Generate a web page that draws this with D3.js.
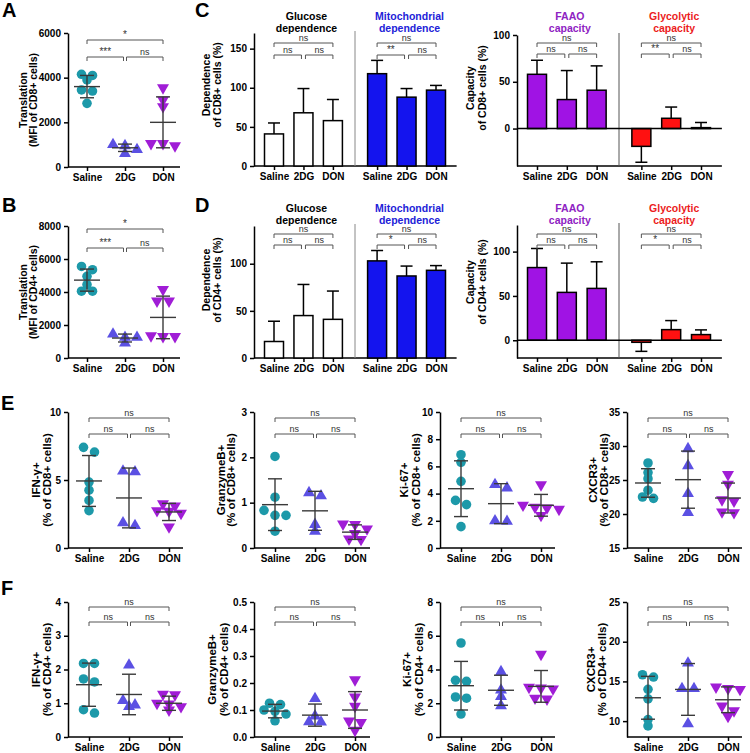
<!DOCTYPE html>
<html>
<head>
<meta charset="utf-8">
<title>Metabolic dependence and T cell function</title>
<script src="https://d3js.org/d3.v7.min.js"></script>
<style>
  body { margin: 0; background: #fff; }
  text { font-family: 'Liberation Sans', Arial, sans-serif; }
</style>
</head>
<body>
<script>
'use strict';

const groups = ['Saline', '2DG', 'DON'];

// A / B : translation (MFI)
const transCD8 = [[4150, 4100, 3900, 3450, 3400, 2850], [1000, 950, 780, 600], [3550, 3000, 2700, 950, 1050, 1050]];
const transCD8Mean = [3600, 860, 2000];
const transCD8Sd = [500, 165, 1140];
const transCD4 = [[5550, 5350, 4950, 4450, 4050, 4050], [1450, 1250, 1250, 900], [4150, 3450, 3450, 1300, 1300, 1350]];
const transCD4Mean = [4720, 1210, 2460];
const transCD4Sd = [670, 240, 1290];

// C / D : bars (mean, SD)
const glucoseCD8 = [41, 68, 58], glucoseCD8Sd = [14, 31, 27];
const mitoCD8 = [118, 88, 97], mitoCD8Sd = [17, 11, 6];
const faaoCD8 = [58, 31, 41], faaoCD8Sd = [15, 31, 26];
const glycoCD8 = [-19, 11, 1], glycoCD8Sd = [17, 12, 5.5];
const glucoseCD4 = [17.5, 45, 41], glucoseCD4Sd = [21.5, 33, 30];
const mitoCD4 = [103, 87, 93], mitoCD4Sd = [11, 10.5, 5];
const faaoCD4 = [82, 54, 58.5], faaoCD4Sd = [21.5, 33, 30];
const glycoCD4 = [-2.3, 12, 6.4], glycoCD4Sd = [10.2, 10.2, 5.3];

// E : CD8+ cells
const ifnCD8 = [[7.4, 7.05, 4.85, 4.25, 3.5, 2.75], [5.6, 5.65, 1.85, 1.65], [3.1, 3.25, 2.75, 2.55, 2.7, 1.55]];
const ifnCD8Mean = [4.93, 3.68, 2.65], ifnCD8Sd = [1.87, 2.2, 0.63];
const gzbCD8 = [[2.02, 1.12, 0.83, 0.72, 0.72, 0.37], [1.22, 1.15, 0.52, 0.37], [0.53, 0.52, 0.42, 0.32, 0.2, 0.19]];
const gzbCD8Mean = [0.956, 0.82, 0.35], gzbCD8Sd = [0.57, 0.43, 0.16];
const kiCD8 = [[6.86, 6.3, 4.9, 3.5, 3.19, 1.57], [4.66, 4.41, 1.96, 2.0], [4.65, 3.15, 3.0, 2.95, 2.85, 2.4]];
const kiCD8Mean = [4.36, 3.26, 3.14], kiCD8Sd = [2.05, 1.47, 0.8];
const cxcrCD8 = [[27.5, 26.1, 25.2, 23.5, 22.5, 22.3], [29.6, 27.1, 23.0, 20.2], [25.8, 24.4, 22.1, 21.9, 20.3, 20.2]];
const cxcrCD8Mean = [24.56, 25.05, 22.35], cxcrCD8Sd = [2.1, 4.2, 2.2];

// F : CD4+ cells
const ifnCD4 = [[2.18, 2.18, 1.72, 1.63, 0.81, 0.71], [2.13, 1.08, 0.95, 0.9], [1.27, 1.25, 1.0, 0.98, 0.9, 0.8]];
const ifnCD4Mean = [1.55, 1.26, 1.0], ifnCD4Sd = [0.64, 0.6, 0.21];
const gzbCD4 = [[0.125, 0.12, 0.1, 0.095, 0.085, 0.06], [0.142, 0.078, 0.056, 0.055], [0.212, 0.148, 0.114, 0.059, 0.054, 0.025]];
const gzbCD4Mean = [0.096, 0.081, 0.1], gzbCD4Sd = [0.025, 0.041, 0.068];
const kiCD4 = [[5.57, 3.36, 3.3, 2.37, 2.3, 1.36], [3.87, 2.78, 2.4, 1.85], [4.9, 2.95, 2.9, 2.85, 2.3, 2.25]];
const kiCD4Mean = [3.04, 2.77, 3.0], kiCD4Sd = [1.44, 0.89, 0.94];
const cxcrCD4 = [[15.84, 15.55, 14.0, 12.8, 10.2, 9.4], [17.3, 14.1, 14.1, 9.66], [14.3, 14.1, 14.0, 11.9, 11.3, 10.6]];
const cxcrCD4Mean = [12.94, 13.99, 12.69], cxcrCD4Sd = [2.7, 3.26, 1.62];

// significance: [Saline-DON, Saline-2DG, 2DG-DON]
const sigTrans = ['*', '***', 'ns'];
const sigNs = ['ns', 'ns', 'ns'];
const sigMitoCD8 = ['ns', '**', 'ns'];
const sigGlycoCD8 = ['ns', '**', 'ns'];
const sigMitoCD4 = ['ns', '*', 'ns'];
const sigGlycoCD4 = ['ns', '*', 'ns'];

const groupColors = ['#1d99a9', '#5b50e3', '#a01dd6'];
const symbols = [
  d3.symbol().type(d3.symbolCircle).size(72),
  d3.symbol().type(d3.symbolTriangle).size(62),
  d3.symbol().type(d3.symbolTriangle).size(62)
];

const svg = d3.select('body').append('svg')
  .attr('width', 750)
  .attr('height', 753);

svg.append('rect')
  .attr('width', '100%')
  .attr('height', '100%')
  .attr('fill', '#ffffff');

function styleAxis(a) {
  a.attr('font-family', null).attr('font-size', null);
  a.select('.domain').attr('stroke-width', 1.5);
  a.selectAll('.tick line').attr('stroke-width', 1.5);
  a.selectAll('.tick text').attr('font-size', 10).attr('font-weight', 'bold').attr('fill', '#000');
}

function yLabel(g, xs, cy, lines, size) {
  lines.forEach((t, i) => {
    g.append('text')
      .attr('transform', `translate(${xs[i]},${cy}) rotate(-90)`)
      .attr('text-anchor', 'middle')
      .attr('font-size', size)
      .attr('font-weight', 'bold')
      .text(t);
  });
}

function bracket(g, xa, xb, y, label) {
  g.append('path')
    .attr('d', `M${xa},${y + 4}V${y}H${xb}V${y + 4}`)
    .attr('fill', 'none')
    .attr('stroke', '#555')
    .attr('stroke-width', 1);
  g.append('text')
    .attr('x', (xa + xb) / 2)
    .attr('y', y - 2)
    .attr('text-anchor', 'middle')
    .attr('font-size', label === 'ns' ? 9 : 10)
    .attr('fill', '#333')
    .text(label);
}

// points close in y are laid out side by side, centred on the column
function spread(vals, y, sp) {
  const idx = vals.map((v, i) => i).sort((a, b) => vals[b] - vals[a]);
  const off = vals.map(() => 0);
  let i = 0;
  while (i < idx.length) {
    const grp = [idx[i]];
    let j = i + 1;
    while (j < idx.length && Math.abs(y(vals[idx[j]]) - y(vals[idx[i]])) < 5) { grp.push(idx[j]); j++; }
    grp.forEach((k, n) => { off[k] = (n - (grp.length - 1) / 2) * sp; });
    i = j;
  }
  return off;
}

function scatterPanel(o) {
  const g = svg.append('g');
  const y = d3.scaleLinear().domain(o.domain).range([o.yBot, o.yTop]);
  const x = d3.scalePoint().domain(groups).range([o.x0 + o.pad[0], o.x0 + o.pad[1]]);

  g.append('g')
    .attr('transform', `translate(${o.x0},0)`)
    .call(d3.axisLeft(y).tickValues(o.ticks).tickFormat(o.fmt || d3.format('d'))
      .tickSize(4).tickSizeOuter(0).tickPadding(3))
    .call(styleAxis);
  g.append('line')
    .attr('x1', o.x0).attr('x2', o.x1)
    .attr('y1', o.yBot).attr('y2', o.yBot)
    .attr('stroke', '#000').attr('stroke-width', 1.5);
  g.append('g')
    .attr('transform', `translate(0,${o.yBot})`)
    .call(d3.axisBottom(x).tickSize(4).tickPadding(3))
    .call(a => a.select('.domain').remove())
    .call(styleAxis);

  o.data.forEach((vals, gi) => {
    const off = spread(vals, y, gi === 0 ? 11 : 12);
    vals.forEach((v, k) => {
      g.append('path')
        .attr('d', symbols[gi]())
        .attr('transform', `translate(${x(groups[gi]) + off[k]},${y(v)})` + (gi === 2 ? ' rotate(180)' : ''))
        .attr('fill', groupColors[gi]);
    });
  });

  groups.forEach((grp, gi) => {
    const cx = x(grp);
    const m = o.mean[gi], s = o.sd[gi];
    const st = p => p.attr('stroke', '#3a3a3a').attr('stroke-width', 1.4);
    st(g.append('line').attr('x1', cx - 13).attr('x2', cx + 13).attr('y1', y(m)).attr('y2', y(m)));
    st(g.append('line').attr('x1', cx).attr('x2', cx).attr('y1', y(m + s)).attr('y2', y(m - s)));
    st(g.append('line').attr('x1', cx - 7).attr('x2', cx + 7).attr('y1', y(m + s)).attr('y2', y(m + s)));
    st(g.append('line').attr('x1', cx - 7).attr('x2', cx + 7).attr('y1', y(m - s)).attr('y2', y(m - s)));
  });

  bracket(g, x('Saline'), x('DON'), o.br[0], o.sig[0]);
  bracket(g, x('Saline'), x('2DG') - 1.5, o.br[1], o.sig[1]);
  bracket(g, x('2DG') + 1.5, x('DON'), o.br[1], o.sig[2]);

  yLabel(g, [o.x0 + o.lab[0], o.x0 + o.lab[1]], (o.yTop + o.yBot) / 2, o.label, o.labSize);
}

function barPanel(o) {
  const g = svg.append('g');
  const y = d3.scaleLinear().domain(o.domain).range([o.yBot, o.yTop]);
  const x = d3.scaleLinear().domain([0, 5.5]).range([o.x0 + 20, o.x0 + o.span]);
  const pos = [[0, 1, 2], [3.5, 4.5, 5.5]];
  const xEnd = x(6.2);

  g.append('g')
    .attr('transform', `translate(${o.x0},0)`)
    .call(d3.axisLeft(y).tickValues(o.ticks).tickSize(4).tickSizeOuter(0).tickPadding(3))
    .call(styleAxis);
  g.append('line')
    .attr('x1', o.x0).attr('x2', xEnd)
    .attr('y1', o.yBot).attr('y2', o.yBot)
    .attr('stroke', '#000').attr('stroke-width', 1.5);
  g.append('g')
    .attr('transform', `translate(0,${o.yBot})`)
    .call(d3.axisBottom(x).tickValues(pos[0].concat(pos[1]))
      .tickFormat((d, i) => groups[i % 3]).tickSize(4).tickPadding(3))
    .call(a => a.select('.domain').remove())
    .call(styleAxis);

  g.append('line')
    .attr('x1', x(2.75)).attr('x2', x(2.75))
    .attr('y1', o.yTop - 2).attr('y2', o.yBot)
    .attr('stroke', o.sepColor).attr('stroke-width', 1);

  o.sets.forEach((s, si) => {
    s.vals.forEach((v, i) => {
      const cx = x(pos[si][i]);
      const dir = v < 0 ? -1 : 1;
      const e = v + dir * s.sd[i];
      g.append('line').attr('x1', cx).attr('x2', cx).attr('y1', y(v)).attr('y2', y(e))
        .attr('stroke', '#000').attr('stroke-width', 1.5);
      g.append('line').attr('x1', cx - 6).attr('x2', cx + 6).attr('y1', y(e)).attr('y2', y(e))
        .attr('stroke', '#000').attr('stroke-width', 1.5);
      g.append('rect')
        .attr('x', cx - 9.5)
        .attr('y', Math.min(y(v), y(0)))
        .attr('width', 19)
        .attr('height', Math.abs(y(v) - y(0)))
        .attr('fill', s.fill)
        .attr('stroke', '#000')
        .attr('stroke-width', 1.5);
    });
    const hx = x(pos[si][1]) + 3;
    s.header.forEach((t, k) => {
      g.append('text')
        .attr('x', hx).attr('y', o.headY[k])
        .attr('text-anchor', 'middle')
        .attr('font-size', 10.5)
        .attr('font-weight', 'bold')
        .attr('fill', s.headColor)
        .text(t);
    });
    bracket(g, x(pos[si][0]), x(pos[si][2]), o.br[0], s.sig[0]);
    bracket(g, x(pos[si][0]), x(pos[si][1]) - 2, o.br[1], s.sig[1]);
    bracket(g, x(pos[si][1]) + 2, x(pos[si][2]), o.br[1], s.sig[2]);
  });

  if (o.domain[0] < 0) {
    g.append('line')
      .attr('x1', o.x0).attr('x2', xEnd)
      .attr('y1', y(0)).attr('y2', y(0))
      .attr('stroke', '#000').attr('stroke-width', 1.5);
  }

  yLabel(g, [o.x0 + o.lab[0], o.x0 + o.lab[1]], o.labY, o.label, 10.5);
}

// ---- A, B ----
scatterPanel({ x0: 68, x1: 180, yTop: 33, yBot: 167, pad: [19, 95], domain: [0, 6000], ticks: [0, 2000, 4000, 6000],
  data: transCD8, mean: transCD8Mean, sd: transCD8Sd, sig: sigTrans, br: [40, 57],
  label: ['Translation', '(MFI of CD8+ cells)'], lab: [-41, -31], labSize: 10.5 });
scatterPanel({ x0: 68, x1: 180, yTop: 226, yBot: 358, pad: [19, 95], domain: [0, 8000], ticks: [0, 2000, 4000, 6000, 8000],
  data: transCD4, mean: transCD4Mean, sd: transCD4Sd, sig: sigTrans, br: [229, 248],
  label: ['Translation', '(MFI of CD4+ cells)'], lab: [-41, -31], labSize: 10.5 });

// ---- C ----
barPanel({ x0: 254, span: 182, yTop: 33, yBot: 166, domain: [0, 170], ticks: [0, 50, 100, 150],
  br: [43, 55], headY: [19.5, 31.5], sepColor: '#888', labY: 85, lab: [-44, -33],
  label: ['Dependence', 'of CD8+ cells (%)'],
  sets: [
    { vals: glucoseCD8, sd: glucoseCD8Sd, fill: '#ffffff', header: ['Glucose', 'dependence'], headColor: '#000', sig: sigNs },
    { vals: mitoCD8, sd: mitoCD8Sd, fill: '#1414ee', header: ['Mitochondrial', 'dependence'], headColor: '#2222d8', sig: sigMitoCD8 }
  ] });
barPanel({ x0: 517, span: 184, yTop: 35, yBot: 166, domain: [-40, 100], ticks: [0, 50, 100],
  br: [43, 54], headY: [19.5, 31.5], sepColor: '#555', labY: 88, lab: [-43, -31],
  label: ['Capacity', 'of CD8+ cells (%)'],
  sets: [
    { vals: faaoCD8, sd: faaoCD8Sd, fill: '#a013e4', header: ['FAAO', 'capacity'], headColor: '#8e22c2', sig: sigNs },
    { vals: glycoCD8, sd: glycoCD8Sd, fill: '#ff1111', header: ['Glycolytic', 'capacity'], headColor: '#ec1c1c', sig: sigGlycoCD8 }
  ] });

// ---- D ----
barPanel({ x0: 254, span: 182, yTop: 226, yBot: 358, domain: [0, 140], ticks: [0, 50, 100],
  br: [234, 245], headY: [211.5, 223.5], sepColor: '#888', labY: 280, lab: [-44, -33],
  label: ['Dependence', 'of CD4+ cells (%)'],
  sets: [
    { vals: glucoseCD4, sd: glucoseCD4Sd, fill: '#ffffff', header: ['Glucose', 'dependence'], headColor: '#000', sig: sigNs },
    { vals: mitoCD4, sd: mitoCD4Sd, fill: '#1414ee', header: ['Mitochondrial', 'dependence'], headColor: '#2222d8', sig: sigMitoCD4 }
  ] });
barPanel({ x0: 517, span: 184, yTop: 225, yBot: 358, domain: [-20, 130], ticks: [0, 50, 100],
  br: [234, 245], headY: [211.5, 223.5], sepColor: '#555', labY: 282, lab: [-43, -31],
  label: ['Capacity', 'of CD4+ cells (%)'],
  sets: [
    { vals: faaoCD4, sd: faaoCD4Sd, fill: '#a013e4', header: ['FAAO', 'capacity'], headColor: '#8e22c2', sig: sigNs },
    { vals: glycoCD4, sd: glycoCD4Sd, fill: '#ff1111', header: ['Glycolytic', 'capacity'], headColor: '#ec1c1c', sig: sigGlycoCD4 }
  ] });

// ---- E ----
const eRow = { yTop: 412, yBot: 548, pad: [21, 101], br: [418, 434], sig: sigNs, labSize: 11.5 };
scatterPanel(Object.assign({}, eRow, { x0: 68, x1: 183, domain: [0, 10], ticks: [0, 5, 10],
  data: ifnCD8, mean: ifnCD8Mean, sd: ifnCD8Sd, label: ['IFN-γ+', '(% of CD8+ cells)'], lab: [-28, -17] }));
scatterPanel(Object.assign({}, eRow, { x0: 254, x1: 370, domain: [0, 3], ticks: [0, 1, 2, 3],
  data: gzbCD8, mean: gzbCD8Mean, sd: gzbCD8Sd, label: ['GranzymeB+', '(% of CD8+ cells)'], lab: [-29, -19] }));
scatterPanel(Object.assign({}, eRow, { x0: 440, x1: 555, domain: [0, 10], ticks: [0, 2, 4, 6, 8, 10],
  data: kiCD8, mean: kiCD8Mean, sd: kiCD8Sd, label: ['Ki-67+', '(% of CD8+ cells)'], lab: [-32, -20] }));
scatterPanel(Object.assign({}, eRow, { x0: 627, x1: 742, domain: [15, 35], ticks: [15, 20, 25, 30, 35],
  data: cxcrCD8, mean: cxcrCD8Mean, sd: cxcrCD8Sd, label: ['CXCR3+', '(% of CD8+ cells)'], lab: [-30, -19] }));

// ---- F ----
const fRow = { yTop: 602, yBot: 737, pad: [21, 101], br: [607, 622], sig: sigNs, labSize: 11.5 };
scatterPanel(Object.assign({}, fRow, { x0: 68, x1: 183, domain: [0, 4], ticks: [0, 1, 2, 3, 4],
  data: ifnCD4, mean: ifnCD4Mean, sd: ifnCD4Sd, label: ['IFN-γ+', '(% of CD4+ cells)'], lab: [-28, -17] }));
scatterPanel(Object.assign({}, fRow, { x0: 254, x1: 370, domain: [0, 0.5], ticks: [0, 0.1, 0.2, 0.3, 0.4, 0.5], fmt: d3.format('.1f'),
  data: gzbCD4, mean: gzbCD4Mean, sd: gzbCD4Sd, label: ['GranzymeB+', '(% of CD4+ cells)'], lab: [-38, -26] }));
scatterPanel(Object.assign({}, fRow, { x0: 440, x1: 555, domain: [0, 8], ticks: [0, 2, 4, 6, 8],
  data: kiCD4, mean: kiCD4Mean, sd: kiCD4Sd, label: ['Ki-67+', '(% of CD4+ cells)'], lab: [-29, -17] }));
scatterPanel(Object.assign({}, fRow, { x0: 627, x1: 742, domain: [8, 25], ticks: [10, 15, 20, 25],
  data: cxcrCD4, mean: cxcrCD4Mean, sd: cxcrCD4Sd, label: ['CXCR3+', '(% of CD4+ cells)'], lab: [-32, -21] }));

// panel letters
const letters = [['A', 2, 17], ['B', 2, 212], ['C', 195, 17], ['D', 195, 212], ['E', 1, 410], ['F', 1, 595]];
svg.selectAll('.letter')
  .data(letters)
  .enter().append('text')
  .attr('class', 'letter')
  .attr('x', d => d[1])
  .attr('y', d => d[2])
  .attr('font-size', 20)
  .attr('font-weight', 'bold')
  .text(d => d[0]);
</script>
</body>
</html>
